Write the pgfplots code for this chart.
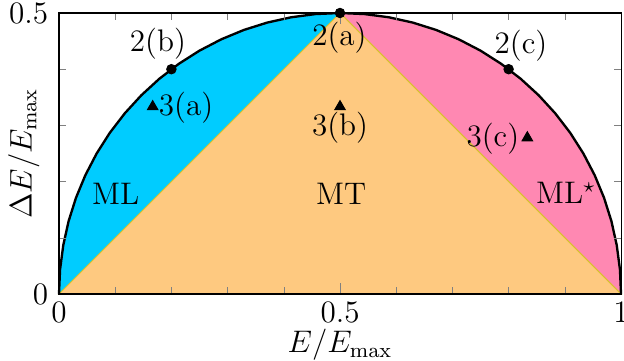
\documentclass[12pt,border=0pt]{standalone}
\usepackage{pgfplots}
\usepackage{pgfplotstable}
\pgfplotsset{compat=1.18}

\definecolor{mlblue}{RGB}{0,204,255}
\definecolor{mlpink}{RGB}{255,136,178}
\definecolor{mtorange}{RGB}{254,201,128}
\definecolor{edgeyellow}{RGB}{215,195,40}

% boundary E(1-E) semicircle, left half (ML) and right half (ML*)
\pgfplotstableread{
x        y
0        0
0.001905 0.04358
0.007596 0.08682
0.017037 0.12941
0.030154 0.17101
0.046846 0.21131
0.066987 0.25
0.090424 0.28679
0.116978 0.32139
0.146447 0.35355
0.178606 0.38302
0.21321  0.40958
0.25     0.43301
0.28869  0.45315
0.32899  0.46985
0.37059  0.48296
0.41318  0.49240
0.45642  0.49810
0.5      0.5
}\arcleft

\pgfplotstableread{
x        y
0.5      0.5
0.54358  0.49810
0.58682  0.49240
0.62941  0.48296
0.67101  0.46985
0.71131  0.45315
0.75     0.43301
0.78679  0.40958
0.82139  0.38302
0.85355  0.35355
0.88302  0.32139
0.90958  0.28679
0.93301  0.25
0.95315  0.21131
0.96985  0.17101
0.98296  0.12941
0.99240  0.08682
0.998095 0.04358
1        0
}\arcright

\begin{document}
\begin{tikzpicture}
\begin{axis}[
    scale only axis, width=7.6cm, height=3.8cm,
    xmin=0, xmax=1, ymin=0, ymax=0.5,
    xtick={0,0.5,1}, ytick={0,0.5},
    minor xtick={0.1,0.2,0.3,0.4,0.6,0.7,0.8,0.9},
    minor ytick={0.1,0.2,0.3,0.4},
    tick style={gray},
    xticklabel style={yshift=1pt},
    xlabel={$E/E_{\max}$}, ylabel={$\Delta E/E_{\max}$},
    xlabel style={at={(axis description cs:0.5,-0.182)}, anchor=center},
    ylabel style={at={(axis description cs:-0.0624,0.5)}, anchor=center},
    axis on top, clip=false,
  ]
  \addplot[fill=mlblue, draw=none] table {\arcleft} -- cycle;
  \addplot[fill=mlpink, draw=none] table {\arcright} -- cycle;
  \addplot[fill=mtorange, draw=edgeyellow, line width=0.4pt] coordinates {(0,0) (0.5,0.5) (1,0)} -- cycle;
  \addplot[black, line width=0.9pt] table {\arcleft};
  \addplot[black, line width=0.9pt] table {\arcright};

  \addplot[only marks, mark=*, mark size=1.8pt, black] coordinates {(0.5,0.5) (0.2,0.4) (0.8,0.4)};
  \addplot[only marks, mark=triangle*, mark size=2.3pt, black] coordinates {(0.1667,0.3333) (0.5,0.3333) (0.8333,0.278)};

  \node at (axis cs:0.499,0.456) {2(a)};
  \node at (axis cs:0.176,0.445) {2(b)};
  \node at (axis cs:0.822,0.441) {2(c)};
  \node at (axis cs:0.226,0.331) {3(a)};
  \node at (axis cs:0.5,0.295) {3(b)};
  \node at (axis cs:0.772,0.276) {3(c)};
  \node at (axis cs:0.101,0.178) {ML};
  \node at (axis cs:0.502,0.178) {MT};
  \node at (axis cs:0.902,0.18) {ML$^\star$};
\end{axis}
\pgfresetboundingbox
\path ([xshift=-22.7pt,yshift=-25.4pt]current axis.south west)
  rectangle ([xshift=1.15pt,yshift=5pt]current axis.north east);
\end{tikzpicture}
\end{document}
